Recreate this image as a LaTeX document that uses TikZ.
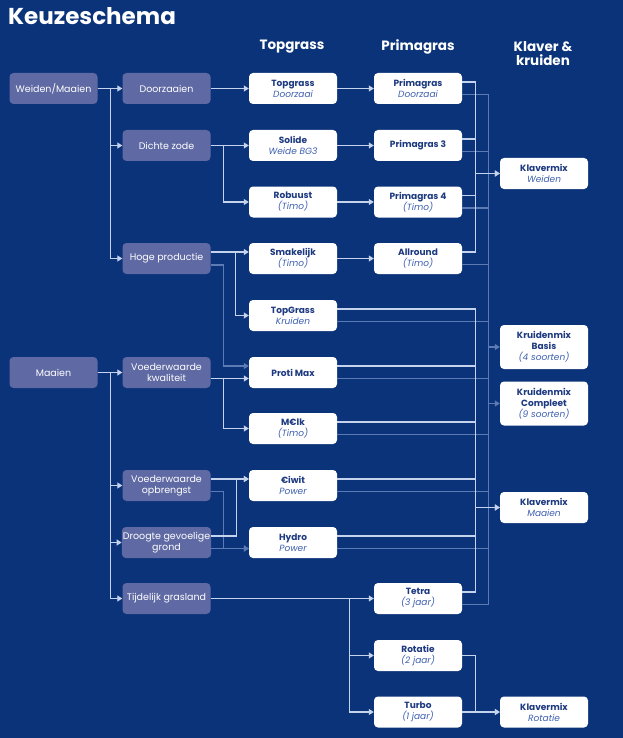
\documentclass[tikz,border=0pt]{standalone}
\usepackage{fontspec}
\setmainfont{Poppins}
\usetikzlibrary{arrows.meta}
\definecolor{bg}{HTML}{0B3379}
\definecolor{pbox}{HTML}{5F69A3}
\definecolor{lnA}{HTML}{C5D3EC}
\definecolor{lnB}{HTML}{5C7BB5}
\definecolor{ttl}{HTML}{1D3A80}
\definecolor{subc}{HTML}{3D5FB0}
\newcommand\btxt[2]{\textbf{#1}\\\textit{\color{subc}#2}}
\begin{document}
\begin{tikzpicture}[x=1pt,y=-1pt,
 pb/.style={fill=pbox, rounded corners=4pt, minimum width=88pt, minimum height=31pt, inner sep=1pt, align=center, text=white, font=\fontsize{9.5}{11}\selectfont},
 wb/.style={fill=white, rounded corners=4pt, minimum width=88pt, minimum height=31pt, inner sep=1pt, align=center, text=ttl, font=\fontsize{9}{11}\selectfont},
 hd/.style={text=white, font=\bfseries\fontsize{13.5}{14}\selectfont, align=center, inner sep=0pt},
 br/.style={draw=lnA, line width=1.1pt},
 dm/.style={draw=lnB, line width=1.1pt},
 ar/.style={-{Triangle[length=5pt,width=6pt]}},
]
\useasboundingbox (0,0) rectangle (623,738);
\fill[bg] (0,0) rectangle (623,738);

\node[text=white, font=\bfseries\fontsize{23}{24}\selectfont, anchor=base west, inner sep=0pt] (title) at (8,25) {Keuzeschema};
\node[hd] (h1) at (292,47) {Topgrass};
\node[hd] (h2) at (418,47) {Primagras};
\node[hd] (h3) at (543,54) {Klaver \&\\kruiden};

% column 0
\node[pb] (wm) at (53.5,88.5) {Weiden/Maaien};
\node[pb] (ma) at (53.5,372.5) {Maaien};
% column 1
\node[pb] (doorz) at (166.5,88.5) {Doorzaaien};
\node[pb] (dichte) at (166.5,145.5) {Dichte zode};
\node[pb] (hoge) at (166.5,258.5) {Hoge productie};
\node[pb] (vk) at (166.5,372.5) {Voederwaarde\\kwaliteit};
\node[pb] (vo) at (166.5,485.5) {Voederwaarde\\opbrengst};
\node[pb] (dg) at (166.5,542.5) {Droogte gevoelige\\grond};
\node[pb] (tg) at (166.5,598.5) {Tijdelijk grasland};
% column 2
\node[wb] (tgd) at (293,88.5) {\btxt{Topgrass}{Doorzaai}};
\node[wb] (solide) at (293,145.5) {\btxt{Solide}{Weide BG3}};
\node[wb] (robuust) at (293,202) {\btxt{Robuust}{(Timo)}};
\node[wb] (smak) at (293,258.5) {\btxt{Smakelijk}{(Timo)}};
\node[wb] (tgk) at (293,315.5) {\btxt{TopGrass}{Kruiden}};
\node[wb] (proti) at (293,372.5) {\textbf{Proti Max}};
\node[wb] (melk) at (293,428.5) {\btxt{M€lk}{(Timo)}};
\node[wb] (eiwit) at (293,485.5) {\btxt{€iwit}{Power}};
\node[wb] (hydro) at (293,542.5) {\btxt{Hydro}{Power}};
% column 3
\node[wb] (pgd) at (418,88.5) {\btxt{Primagras}{Doorzaai}};
\node[wb] (pg3) at (418,145.5) {\textbf{Primagras 3}};
\node[wb] (pg4) at (418,202) {\btxt{Primagras 4}{(Timo)}};
\node[wb] (allr) at (418,258.5) {\btxt{Allround}{(Timo)}};
\node[wb] (tetra) at (418,598.5) {\btxt{Tetra}{(3 jaar)}};
\node[wb] (rot) at (418,655.5) {\btxt{Rotatie}{(2 jaar)}};
\node[wb] (turbo) at (418,712) {\btxt{Turbo}{(1 jaar)}};
% column 4
\node[wb] (kw) at (544,173.5) {\btxt{Klavermix}{Weiden}};
\node[wb, minimum height=44pt] (kb) at (544,347) {\textbf{Kruidenmix}\\\textbf{Basis}\\\textit{\color{subc}(4 soorten)}};
\node[wb, minimum height=44pt] (kc) at (544,403.5) {\textbf{Kruidenmix}\\\textbf{Compleet}\\\textit{\color{subc}(9 soorten)}};
\node[wb] (km) at (544,507.5) {\btxt{Klavermix}{Maaien}};
\node[wb] (kr) at (544,712) {\btxt{Klavermix}{Rotatie}};

% ---- dim connectors (drawn first)
\draw[dm,ar] ([yshift=-6.5pt]hoge.east) -- ++(13,0) |- ([yshift=6.5pt]proti.west);
\draw[dm,ar] ([yshift=-6pt]vo.east) -- ++(13,0) |- ([yshift=-6pt]hydro.west);
\draw[dm,ar] ([yshift=-6pt]dg.east) -- ([yshift=-6pt]hydro.west);
% dim bus to Kruidenmix
\draw[dm,ar] ([yshift=-6pt]pgd.east) -- ++(26,0) |- (kc.west);
\draw[dm,ar] ([yshift=-6pt]tetra.east) -- ++(26,0) |- (kb.west);
\foreach \n in {pg3,pg4,allr}{\draw[dm] ([yshift=-6pt]\n.east) -- ++(26,0);}
\foreach \n in {tgk,proti,melk,eiwit,hydro}{\draw[dm] ([yshift=-6pt]\n.east) -- ++(151,0);}

% ---- bright connectors
\draw[br,ar] (wm.east) -- (doorz.west);
\draw[br,ar] (wm.east) -- ++(13,0) |- (dichte.west);
\draw[br,ar] (wm.east) -- ++(13,0) |- (hoge.west);
\draw[br,ar] (ma.east) -- (vk.west);
\draw[br,ar] (ma.east) -- ++(13,0) |- (vo.west);
\draw[br,ar] (ma.east) -- ++(13,0) |- (dg.west);
\draw[br,ar] (ma.east) -- ++(13,0) |- (tg.west);

\draw[br,ar] (doorz.east) -- (tgd.west);
\draw[br,ar] (dichte.east) -- (solide.west);
\draw[br,ar] (dichte.east) -- ++(13,0) |- (robuust.west);
\draw[br,ar] ([yshift=6.5pt]hoge.east) -- ([yshift=6.5pt]smak.west);
\draw[br,ar] ([yshift=6.5pt]hoge.east) -- ++(25,0) |- (tgk.west);
\draw[br,ar] ([yshift=-6pt]vk.east) -- ([yshift=-6pt]proti.west);
\draw[br,ar] ([yshift=-6pt]vk.east) -- ++(13,0) |- (melk.west);
\draw[br,ar] ([yshift=6.5pt]vo.east) -- ([yshift=6.5pt]eiwit.west);
\draw[br,ar] ([yshift=6.5pt]dg.east) -- ++(25,0) |- ([yshift=6.5pt]eiwit.west);
\draw[br,ar] (tg.east) -- (tetra.west);
\draw[br,ar] (tg.east) -- ++(139,0) |- (rot.west);
\draw[br,ar] (tg.east) -- ++(139,0) |- (turbo.west);

\draw[br,ar] (tgd.east) -- (pgd.west);
\draw[br,ar] (solide.east) -- (pg3.west);
\draw[br,ar] (robuust.east) -- (pg4.west);
\draw[br,ar] (smak.east) -- (allr.west);

% bright bus to Klavermix Weiden
\draw[br,ar] ([yshift=6.5pt]pgd.east) -- ++(13,0) |- (kw.west);
\draw[br,ar] ([yshift=6.5pt]allr.east) -- ++(13,0) |- (kw.west);
\draw[br] ([yshift=6.5pt]pg3.east) -- ++(13,0);
\draw[br] ([yshift=6.5pt]pg4.east) -- ++(13,0);
% bright bus to Klavermix Maaien
\draw[br,ar] ([yshift=6.5pt]tgk.east) -- ++(138,0) |- (km.west);
\draw[br,ar] ([yshift=6.5pt]tetra.east) -- ++(13,0) |- (km.west);
\foreach \n in {proti,melk,eiwit,hydro}{\draw[br] ([yshift=6.5pt]\n.east) -- ++(138,0);}
% rotation
\draw[br,ar] (rot.east) -- ++(13,0) |- (kr.west);
\draw[br,ar] (turbo.east) -- (kr.west);
\end{tikzpicture}
\end{document}
